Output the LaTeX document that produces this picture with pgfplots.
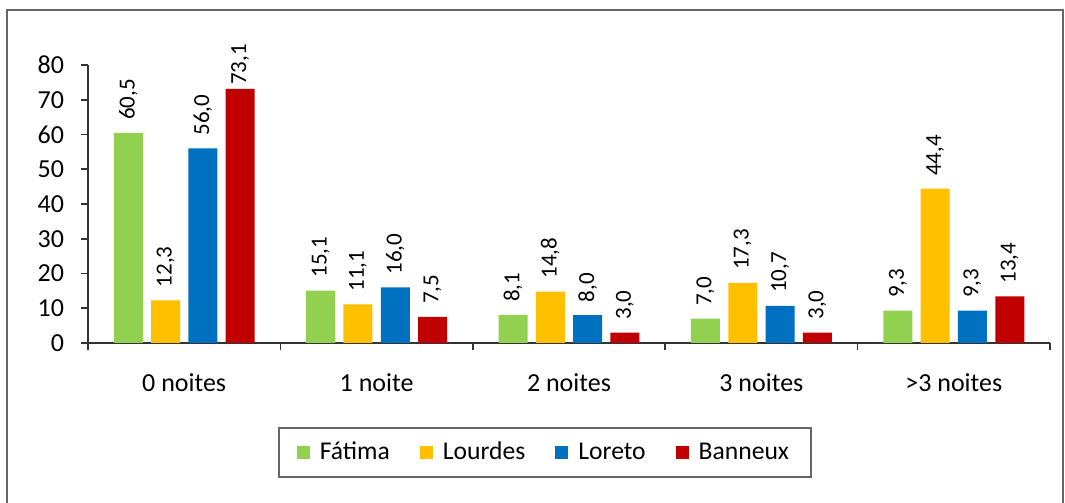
\documentclass[border=0pt]{standalone}
\usepackage{pgfplots}
\usepackage{pgfplotstable}
\pgfplotsset{compat=1.18}
\usepackage{fontspec}
\setmainfont{Carlito}
\definecolor{cgreen}{HTML}{92D050}
\definecolor{cyellow}{HTML}{FFC000}
\definecolor{cblue}{HTML}{0070C0}
\definecolor{cred}{HTML}{C00000}
\newcommand{\up}{\hspace*{-4.5pt}}
\pgfplotstableread{
x y
0 60.5
1 15.1
2 8.1
3 7.0
4 9.3
}\fatima
\pgfplotstableread{
x y
0 12.3
1 11.1
2 14.8
3 17.3
4 44.4
}\lourdes
\pgfplotstableread{
x y
0 56.0
1 16.0
2 8.0
3 10.7
4 9.3
}\loreto
\pgfplotstableread{
x y lab
0 73.1 {\up73,1}
1 7.5 {7,5}
2 3.0 {3,0}
3 3.0 {3,0}
4 13.4 {13,4}
}\banneux
\begin{document}
\begin{tikzpicture}
\useasboundingbox (0,0) rectangle (532.5pt,251.5pt);
\draw[line width=0.8pt, black!60] (3.5pt,0) -- (3.5pt,246.5pt) -- (531.5pt,246.5pt) -- (531.5pt,0);
\begin{axis}[
  at={(44pt,80pt)}, anchor=south west,
  scale only axis, width=481pt, height=139pt,
  xmin=-0.5, xmax=4.5, ymin=0, ymax=80,
  clip=false,
  axis x line*=bottom, axis y line*=left,
  axis line style={-, black!80, line width=0.8pt},
  tick style={black!80, line width=0.8pt},
  tick align=outside, major tick length=3.5pt,
  ytick={0,10,...,80},
  xtick={-0.5,0.5,...,4.5}, xticklabels={},
  extra x ticks={0,1,2,3,4},
  extra x tick labels={0 noites,1 noite,2 noites,3 noites,>3 noites},
  extra x tick style={major tick length=0pt, tick label style={yshift=-12pt}},
  /pgf/number format/assume math mode=true,
  ticklabel style={font=\fontsize{13}{15}\selectfont},
  yticklabel style={xshift=-5pt},
  ybar=4.15pt, bar width=14.5pt,
  nodes near coords={\pgfmathprintnumber[fixed,fixed zerofill,precision=1,use comma,assume math mode=true]{\pgfplotspointmeta}},
  every node near coord/.append style={rotate=90, anchor=west, font=\fontsize{11.5}{13}\selectfont, inner xsep=6.5pt, outer sep=0pt, black},
  legend columns=4,
  legend image code/.code={\fill[#1, draw=none] (0pt,-3.25pt) rectangle (6.5pt,3.25pt);},
  legend style={at={(0.475,-0.394)}, anchor=center, draw=black!60, line width=0.8pt,
    font=\fontsize{12.8}{15}\selectfont, inner xsep=9pt, inner ysep=5pt,
    /tikz/every even column/.append style={column sep=13pt},
    /tikz/every odd column/.append style={column sep=3pt}},
]
\addplot[fill=cgreen, draw=none] table[x=x,y=y] {\fatima};
\addplot[fill=cyellow, draw=none] table[x=x,y=y] {\lourdes};
\addplot[fill=cblue, draw=none] table[x=x,y=y] {\loreto};
\addplot[fill=cred, draw=none, point meta=explicit symbolic, nodes near coords={\pgfplotspointmeta}] table[x=x,y=y,meta=lab] {\banneux};
\legend{Fátima,Lourdes,Loreto,Banneux}
\end{axis}
\end{tikzpicture}
\end{document}
